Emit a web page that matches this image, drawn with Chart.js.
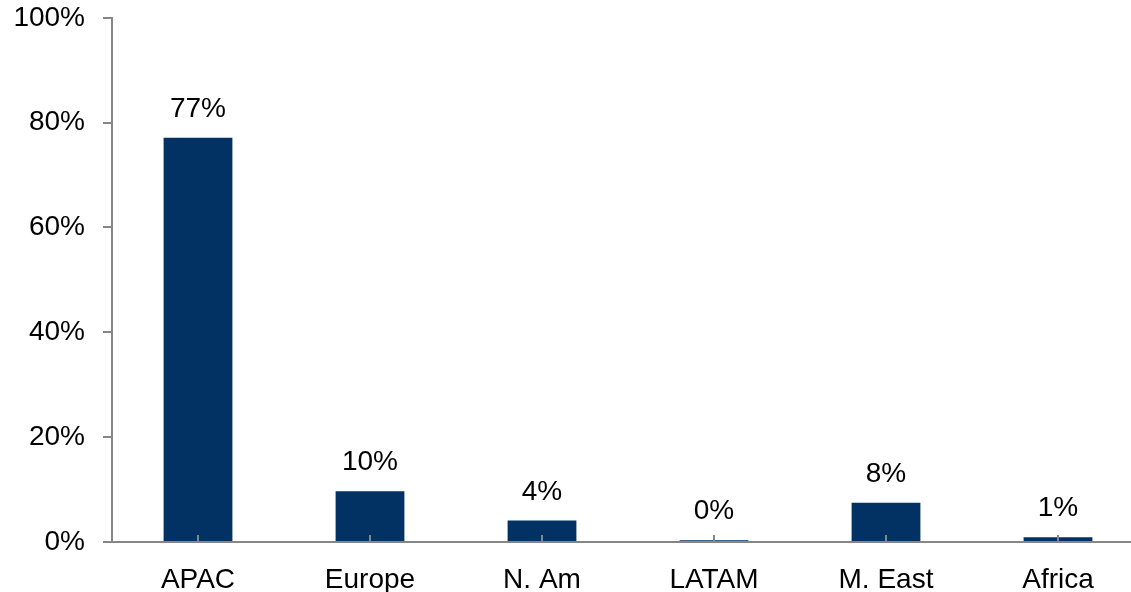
<!DOCTYPE html>
<html>
<head>
<meta charset="utf-8">
<script src="https://cdn.jsdelivr.net/npm/chart.js@4"></script>
<style>
  html, body { margin: 0; padding: 0; background: #fff; overflow: hidden; }
  #wrap { width: 1144px; height: 609px; margin-top: -17px; }
</style>
</head>
<body>
<div id="wrap"><canvas id="chart"></canvas></div>
<script>
const regions = ["APAC", "Europe", "N. Am", "LATAM", "M. East", "Africa"];
const shares = [77.1, 9.7, 4.1, 0.35, 7.5, 0.9];
const yTicks = [0, 20, 40, 60, 80, 100];

const FONT = { family: "Liberation Sans, Arial, sans-serif", size: 28 };
const AXIS = "#868686";

// value labels above each bar
const barLabels = {
  id: "barLabels",
  afterDatasetsDraw(chart) {
    const ctx = chart.ctx;
    const meta = chart.getDatasetMeta(0);
    ctx.save();
    ctx.font = FONT.size + "px " + FONT.family;
    ctx.fillStyle = "#000";
    ctx.textAlign = "center";
    ctx.textBaseline = "alphabetic";
    meta.data.forEach((bar, i) => {
      ctx.fillText(Math.round(shares[i]) + "%", bar.x, bar.y - 21);
    });
    ctx.restore();
  }
};

// short inward tick marks on the category axis, drawn over the bars
const innerTicks = {
  id: "innerTicks",
  afterDatasetsDraw(chart) {
    const ctx = chart.ctx;
    const x = chart.scales.x;
    const base = chart.scales.y.getPixelForValue(0);
    ctx.save();
    ctx.strokeStyle = AXIS;
    ctx.lineWidth = 2;
    regions.forEach((_, i) => {
      const px = Math.round(x.getPixelForTick(i));
      ctx.beginPath();
      ctx.moveTo(px, base);
      ctx.lineTo(px, base - 7);
      ctx.stroke();
    });
    ctx.restore();
  }
};

new Chart(document.getElementById("chart"), {
  type: "bar",
  data: {
    labels: regions,
    datasets: [{
      data: shares,
      backgroundColor: "#023263",
      barPercentage: 0.8,
      categoryPercentage: 0.5
    }]
  },
  options: {
    responsive: true,
    maintainAspectRatio: false,
    animation: false,
    layout: { padding: { top: 3, right: 0, left: 0, bottom: 0 } },
    plugins: { legend: { display: false }, tooltip: { enabled: false } },
    scales: {
      x: {
        grid: { display: false, drawTicks: false },
        border: { display: true, color: AXIS, width: 2 },
        ticks: { color: "#000", font: FONT, padding: 21, maxRotation: 0 },
        afterFit(scale) { scale.height = 50; }
      },
      y: {
        min: 0,
        max: 100,
        afterBuildTicks(scale) { scale.ticks = yTicks.map(v => ({ value: v })); },
        grid: { drawOnChartArea: false, drawTicks: true, tickLength: 9, color: AXIS, lineWidth: 2 },
        border: { display: true, color: AXIS, width: 2 },
        ticks: { color: "#000", font: FONT, padding: 18, callback: v => v + "%" },
        afterFit(scale) { scale.width = 112; }
      }
    }
  },
  plugins: [barLabels, innerTicks]
});
</script>
</body>
</html>
